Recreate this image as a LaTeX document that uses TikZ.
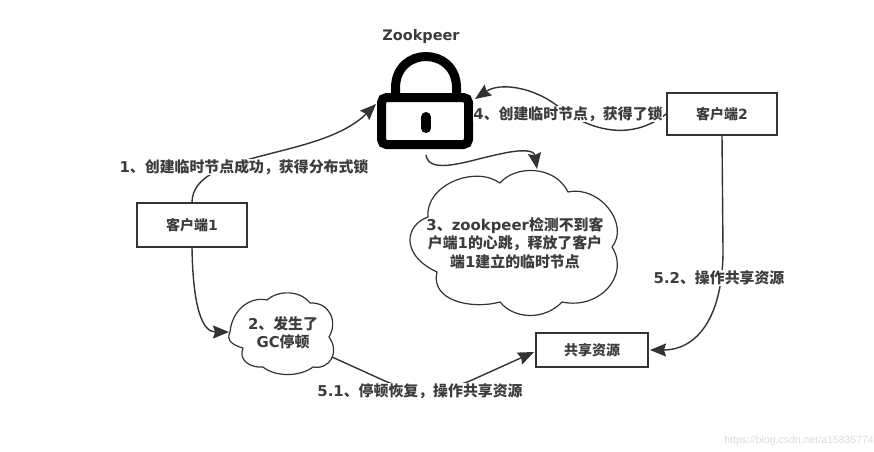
\documentclass[tikz,border=0pt]{standalone}
\usepackage{fontspec}
\setmainfont{Noto Sans CJK SC}
\newfontfamily\latf{DejaVu Sans}
\newfontfamily\wmf{Liberation Sans}
\newcommand\lt[1]{{\latf\bfseries #1}}
\usetikzlibrary{arrows.meta}
\definecolor{ink}{HTML}{333333}
\definecolor{txt}{HTML}{3C3C3C}
\tikzset{
  box/.style={draw=ink,line width=1.8pt,fill=white,inner sep=0pt,font=\bfseries\fontsize{14}{16}\selectfont,text=txt},
  lab/.style={inner sep=0.5pt,fill=white,font=\bfseries\fontsize{14.9}{18.5}\selectfont,text=txt,align=center},
  cloudtxt/.style={inner sep=0pt,align=center,font=\bfseries\fontsize{14.9}{18.5}\selectfont,text=txt},
  link/.style={draw=ink,line width=1.4pt,-{Stealth[length=16pt,width=13pt,inset=2pt]}},
  cloudline/.style={draw=ink,line width=1.2pt,fill=white,line join=round},
}
\begin{document}
\begin{tikzpicture}[x=1pt,y=-1pt]
\useasboundingbox (0,0) rectangle (874,451);
% nodes
\node[box,minimum width=110pt,minimum height=44pt] (c1) at (192,225) {客户端\lt{1}};
\node[box,minimum width=110pt,minimum height=42pt] (c2) at (722,114) {客户端\lt{2}};
\node[box,minimum width=112pt,minimum height=34pt] (res) at (592,350) {共享资源};
\node[draw=black,line width=9pt,rounded corners=5pt,fill=white,minimum width=87pt,minimum height=47pt,inner sep=0pt] (lock) at (425,121) {};
\node[inner sep=0pt,minimum width=103pt,minimum height=80pt] (gc) at (281.5,333) {};
\node[inner sep=0pt,minimum width=205pt,minimum height=145pt] (zk) at (514.5,242.5) {};
\coordinate (c4a) at (475,99);
\coordinate (c1a) at (376,104);
\coordinate (zka) at (537,169);
\coordinate (gca) at (229,332);
\coordinate (gcb) at (332,357);
\coordinate (resa) at (534,352);
\coordinate (resb) at (650,350);
% lock details
\draw[black,line width=9pt] (395.5,95) -- (395.5,88) .. controls (395.5,46) and (456.5,46) .. (456.5,88) -- (456.5,95);
\draw[black,line width=10pt,line cap=round] (426,117) -- (426,128);
% clouds
\draw[cloudline] (230,332) .. controls (232,310) and (250,296) .. (267,300)
  .. controls (278,290) and (300,290) .. (310,303)
  .. controls (330,302) and (338,322) .. (329,337)
  .. controls (340,352) and (330,370) .. (313,367)
  .. controls (300,377) and (275,377) .. (263,367)
  .. controls (250,368) and (238,360) .. (243,348)
  .. controls (232,345) and (226,340) .. (230,332) -- cycle;
\draw[cloudline] (428,217) .. controls (425,185) and (475,165) .. (500,183)
  .. controls (515,165) and (555,165) .. (568,192)
  .. controls (600,185) and (630,225) .. (612,247)
  .. controls (630,275) and (600,310) .. (562,302)
  .. controls (545,320) and (515,320) .. (500,302)
  .. controls (470,310) and (430,300) .. (437,272)
  .. controls (400,255) and (405,225) .. (428,217) -- cycle;
% connectors
\draw[link] (c1.north) .. controls (193,150) and (320,160) .. (c1a);
\draw[link] (c2.west) .. controls (630,142) and (590,130) .. (560,108) .. controls (535,87) and (500,82) .. (c4a);
\draw[link] (lock.south) ++(1,6) .. controls (429,176) and (470,160) .. (500,154) .. controls (522,149) and (534,150) .. (zka);
\draw[link] (c1.south) .. controls (193,310) and (203,332) .. (gca);
\draw[link] (gcb) -- (385,381) .. controls (410,392) and (445,392) .. (472,380) -- (resa);
\draw[link] (c2.south) -- (723,250) .. controls (723,320) and (695,350) .. (resb);
% labels
\node[lab] (l1) at (244,167) {\lt{1}、创建临时节点成功，获得分布式锁};
\node[lab] (l4) at (568,114) {\lt{4}、创建临时节点，获得了锁};
\node[lab] (l51) at (420,391) {\lt{5.1}、停顿恢复，操作共享资源};
\node[lab] (l52) at (719,278) {\lt{5.2}、操作共享资源};
\node[cloudtxt] (l2) at (283,333) {\lt{2}、发生了\\\lt{GC}停顿};
\node[cloudtxt] (l3) at (515,243) {\lt{3}、\lt{zookpeer}检测不到客\\户端\lt{1}的心跳，释放了客户\\端\lt{1}建立的临时节点};
\node[inner sep=0pt,font=\latf\bfseries\fontsize{14.5}{16}\selectfont,text=txt] (title) at (421,36) {Zookpeer};
\node[inner sep=0pt,anchor=east,font=\wmf\fontsize{10.5}{12}\selectfont,text=black!14] (wm) at (874,441) {https://blog.csdn.net/a15835774};
\end{tikzpicture}
\end{document}
